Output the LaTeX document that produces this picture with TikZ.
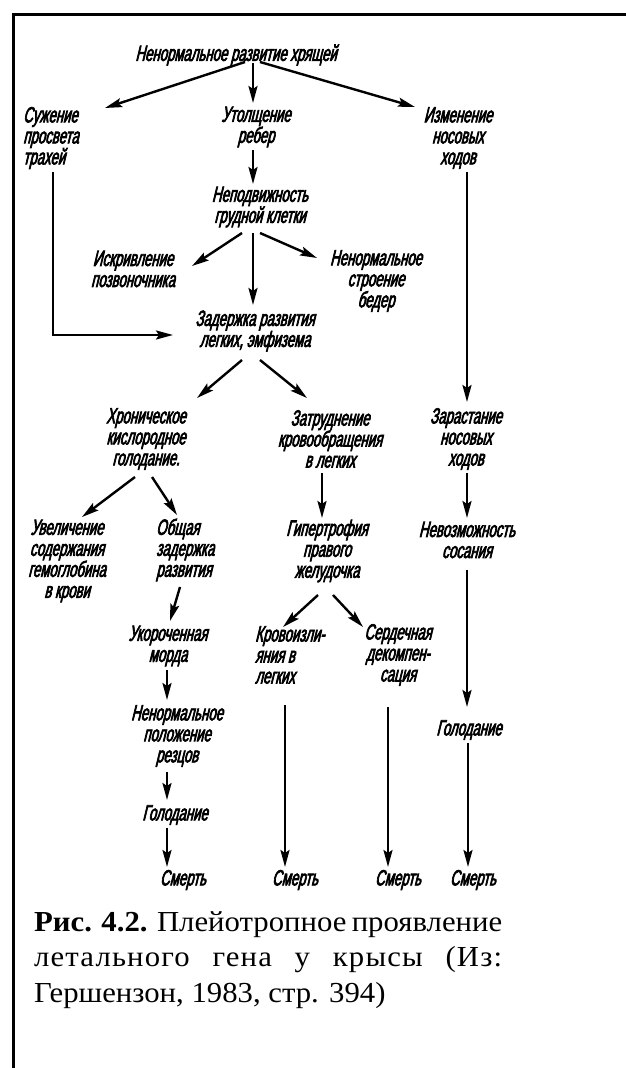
\documentclass[tikz,border=0pt]{standalone}
\usepackage{fontspec}
\setmainfont{Liberation Serif}
\newfontfamily\capfont[FakeStretch=1.06]{Liberation Serif}
\newfontfamily\dgfont[FakeStretch=0.6,FakeSlant=0.24,FakeBold=3]{Liberation Sans}
\usetikzlibrary{arrows.meta}
\tikzset{
  lbl/.style={font=\dgfont\fontsize{22}{21}\selectfont, align=center, inner sep=1pt},
  lbll/.style={lbl, align=left, anchor=west},
  arr/.style={line width=2.4pt, -{Stealth[length=17pt,width=9pt,inset=3pt]}},
  frame/.style={line width=3pt}
}
\begin{document}
\begin{tikzpicture}[x=1pt,y=-1pt]
\useasboundingbox (0,0) rectangle (626,1068);
\fill[white] (0,0) rectangle (626,1068);
\draw[frame] (13.5,1070) -- (13.5,14) -- (630,14);

\node[lbl]  (title) at (236,55)  {Ненормальное развитие хрящей};
\node[lbll] (sug)   at (22,138)  {Сужение\\просвета\\трахей};
\node[lbl]  (utol)  at (256,127) {Утолщение\\ребер};
\node[lbl]  (izm)   at (458,138) {Изменение\\носовых\\ходов};
\node[lbl]  (nepod) at (260,207) {Неподвижность\\грудной клетки};
\node[lbl]  (iskr)  at (133,269) {Искривление\\позвоночника};
\node[lbl]  (nenb)  at (376,281) {Ненормальное\\строение\\бедер};
\node[lbl]  (zad)   at (255,331) {Задержка развития\\легких, эмфизема};
\node[lbl]  (hron)  at (146,439) {Хроническое\\кислородное\\голодание.};
\node[lbl]  (zatr)  at (330,439) {Затруднение\\кровообращения\\в легких};
\node[lbl]  (zar)   at (466,439) {Зарастание\\носовых\\ходов};
\node[lbl]  (uvel)  at (67,561)  {Увеличение\\содержания\\гемоглобина\\в крови};
\node[lbll] (obsh)  at (155,550) {Общая\\задержка\\развития};
\node[lbl]  (gip)   at (327,551) {Гипертрофия\\правого\\желудочка};
\node[lbl]  (nevoz) at (467,540) {Невозможность\\сосания};
\node[lbl]  (ukor)  at (168,646) {Укороченная\\морда};
\node[lbll] (krov)  at (254,655) {Кровоизли-\\яния в\\легких};
\node[lbl]  (serd)  at (398,655) {Сердечная\\декомпен-\\сация};
\node[lbl]  (nenp)  at (177,736) {Ненормальное\\положение\\резцов};
\node[lbl]  (gol1)  at (175,815) {Голодание};
\node[lbl]  (gol2)  at (469,730) {Голодание};
\node[lbl]  (sm1)   at (183,880) {Смерть};
\node[lbl]  (sm2)   at (295,880) {Смерть};
\node[lbl]  (sm3)   at (398,880) {Смерть};
\node[lbl]  (sm4)   at (473,880) {Смерть};

\draw[arr] ([shift={(9,7)}]title.center) -- ([shift={(83,-30)}]sug.west);
\draw[arr] ([shift={(17,8)}]title.center) -- ([shift={(-3,-24)}]utol.center);
\draw[arr] ([shift={(24,7)}]title.center) -- ([shift={(-43,-31)}]izm.center);
\draw[arr] ([shift={(-3,23)}]utol.center) -- ([shift={(-7,-23)}]nepod.center);
\draw[arr] ([shift={(-18,26)}]nepod.center) -- ([shift={(59,-3)}]iskr.center);
\draw[arr] ([shift={(-7,26)}]nepod.center) -- ([shift={(-2,-26)}]zad.center);
\draw[arr] ([shift={(0,26)}]nepod.center) -- ([shift={(-59,-23)}]nenb.center);
\draw[arr] ([shift={(31,34)}]sug.west) |- ([shift={(-82,4)}]zad.center);
\draw[arr] ([shift={(9,34)}]izm.center) -- ([shift={(1,-37)}]zar.center);
\draw[arr] ([shift={(-13,29)}]zad.center) -- ([shift={(51,-41)}]hron.center);
\draw[arr] ([shift={(5,29)}]zad.center) -- ([shift={(-23,-41)}]zatr.center);
\draw[arr] ([shift={(-11,38)}]hron.center) -- ([shift={(15,-44)}]uvel.center);
\draw[arr] ([shift={(6,38)}]hron.center) -- ([shift={(22,-35)}]obsh.west);
\draw[arr] ([shift={(-8,34)}]zatr.center) -- ([shift={(-5,-33)}]gip.center);
\draw[arr] ([shift={(1,34)}]zar.center) -- ([shift={(0,-22)}]nevoz.center);
\draw[arr] ([shift={(25,37)}]obsh.west) -- ([shift={(2,-25)}]ukor.center);
\draw[arr] ([shift={(-9,44)}]gip.center) -- ([shift={(29,-28)}]krov.west);
\draw[arr] ([shift={(6,44)}]gip.center) -- ([shift={(-35,-28)}]serd.center);
\draw[arr] ([shift={(0,30)}]nevoz.center) -- ([shift={(-2,-23)}]gol2.center);
\draw[arr] ([shift={(-1,24)}]ukor.center) -- ([shift={(-10,-36)}]nenp.center);
\draw[arr] ([shift={(-10,36)}]nenp.center) -- ([shift={(-8,-15)}]gol1.center);
\draw[arr] ([shift={(-8,13)}]gol1.center) -- ([shift={(-16,-13)}]sm1.center);
\draw[arr] ([shift={(31,50)}]krov.west) -- ([shift={(-10,-13)}]sm2.center);
\draw[arr] ([shift={(-10,52)}]serd.center) -- ([shift={(-10,-13)}]sm3.center);
\draw[arr] ([shift={(-1,13)}]gol2.center) -- ([shift={(-5,-13)}]sm4.center);

\node[anchor=base west, inner sep=0pt, align=left,
      font=\capfont\fontsize{29}{35.5}\selectfont] (cap) at (34,1002)
  {\makebox[468pt][s]{\textbf{Рис. 4.2.} Плейотропное проявление}\\
   \makebox[468pt][s]{\addfontfeature{LetterSpace=4}летального гена у крысы (Из:}\\
   Гершензон, 1983, стр. 394)};
\end{tikzpicture}
\end{document}
